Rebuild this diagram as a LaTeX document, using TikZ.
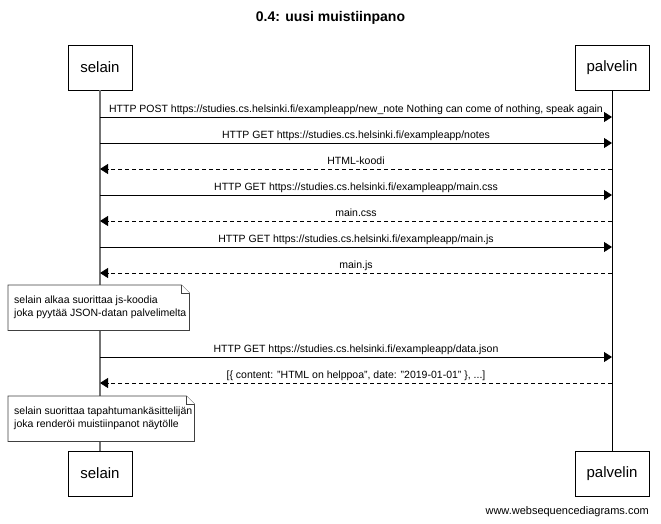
\documentclass[tikz,border=0pt]{standalone}
\usepackage{fontspec}
\setmainfont{Liberation Sans}
\usetikzlibrary{arrows.meta}
\tikzset{
  actor/.style={draw, line width=0.8pt, fill=white, minimum height=45pt, inner sep=0pt, font=\fontsize{15}{18}\selectfont},
  msg/.style={line width=0.8pt, -{Triangle[length=8pt,width=10pt]}},
  reply/.style={msg, dash pattern=on 4pt off 3pt},
  lbl/.style={font=\fontsize{10.5}{12}\selectfont, inner sep=0pt, anchor=base, yshift=4.5pt},
  notebox/.style={font=\fontsize{10.5}{13}\selectfont, align=left, anchor=north west, inner xsep=6pt, inner ysep=0pt, minimum height=45pt},
  noteline/.style={draw=black!75, line width=0.7pt, fill=white},
  lifeA/.style={draw=black!55, line width=1.1pt},
  lifeB/.style={draw=black, line width=0.8pt}
}
\begin{document}
\begin{tikzpicture}[x=1pt,y=-1pt]
\useasboundingbox (0,0) rectangle (661,523);
\node[font=\bfseries\fontsize{14}{16}\selectfont] (title) at (330.5,18) {0.4: uusi muistiinpano};

\node[actor, minimum width=64pt] (sT) at (100,67.5) {selain};
\node[actor, minimum width=74pt] (pT) at (612,67.5) {palvelin};
\node[actor, minimum width=64pt] (sB) at (100,473.5) {selain};
\node[actor, minimum width=74pt] (pB) at (612,473.5) {palvelin};

\draw[lifeA] (sT.south) -- (sB.north);
\draw[lifeB] (pT.south) -- (pB.north);

% message anchor points
\foreach \i/\y in {1/117,2/143,3/169,4/195,5/221,6/247,7/273,8/357,9/383}{
  \coordinate (s\i) at (100,\y);
  \coordinate (p\i) at (612,\y);
}

\draw[msg] (s1) -- node[lbl] {HTTP POST https://studies.cs.helsinki.fi/exampleapp/new\_note Nothing can come of nothing, speak again} (p1);
\draw[msg] (s2) -- node[lbl] {HTTP GET https://studies.cs.helsinki.fi/exampleapp/notes} (p2);
\draw[reply] (p3) -- node[lbl] {HTML-koodi} (s3);
\draw[msg] (s4) -- node[lbl] {HTTP GET https://studies.cs.helsinki.fi/exampleapp/main.css} (p4);
\draw[reply] (p5) -- node[lbl] {main.css} (s5);
\draw[msg] (s6) -- node[lbl] {HTTP GET https://studies.cs.helsinki.fi/exampleapp/main.js} (p6);
\draw[reply] (p7) -- node[lbl] {main.js} (s7);
\draw[msg] (s8) -- node[lbl] {HTTP GET https://studies.cs.helsinki.fi/exampleapp/data.json} (p8);
\draw[reply] (p9) -- node[lbl] {[\{ content: "HTML on helppoa", date: "2019-01-01" \}, ...]} (s9);

% notes
\node[notebox, minimum width=181pt] (n1) at (8,285) {\phantom{x}};
\draw[noteline] (n1.north west) -- ([xshift=-8pt]n1.north east) -- ([yshift=-8pt]n1.north east) -- (n1.south east) -- (n1.south west) -- cycle;
\draw[noteline] ([xshift=-8pt]n1.north east) -- ([xshift=-8pt,yshift=-8pt]n1.north east) -- ([yshift=-8pt]n1.north east);
\node[notebox, minimum width=181pt] (t1) at (8,285) {selain alkaa suorittaa js-koodia\\joka pyytää JSON-datan palvelimelta};

\node[notebox, minimum width=186pt] (n2) at (8,396) {\phantom{x}};
\draw[noteline] (n2.north west) -- ([xshift=-8pt]n2.north east) -- ([yshift=-8pt]n2.north east) -- (n2.south east) -- (n2.south west) -- cycle;
\draw[noteline] ([xshift=-8pt]n2.north east) -- ([xshift=-8pt,yshift=-8pt]n2.north east) -- ([yshift=-8pt]n2.north east);
\node[notebox, minimum width=186pt] (t2) at (8,396) {selain suorittaa tapahtumankäsittelijän\\joka renderöi muistiinpanot näytölle};

\node[font=\fontsize{11}{13}\selectfont, anchor=base east, inner sep=0pt] (wm) at (649,514) {www.websequencediagrams.com};
\end{tikzpicture}
\end{document}
